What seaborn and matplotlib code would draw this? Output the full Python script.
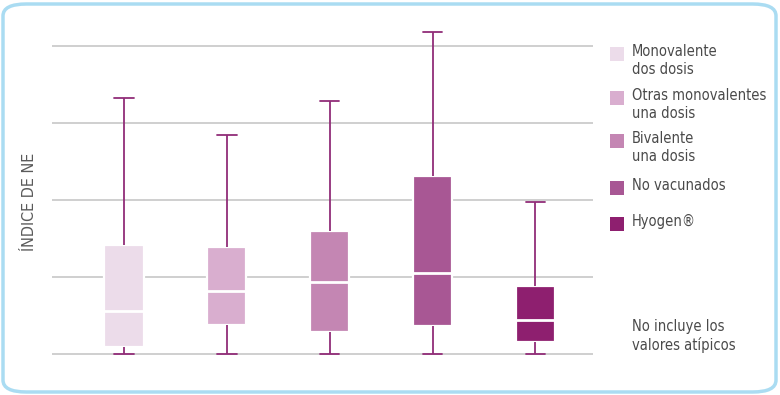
import numpy as np
import pandas as pd
import matplotlib.pyplot as plt
import seaborn as sns
from matplotlib.patches import FancyBboxPatch, Rectangle

# Five-number summaries (whiskers = min/max, outliers excluded)
groups = ['Monovalente dos dosis', 'Otras monovalentes una dosis', 'Bivalente una dosis',
          'No vacunados', 'Hyogen®']
lows = [0.0, 0.0, 0.0, 0.0, 0.0]
q1s = [0.09, 0.38, 0.29, 0.36, 0.16]
medians = [0.56, 0.82, 0.94, 1.05, 0.44]
q3s = [1.42, 1.39, 1.60, 2.31, 0.88]
highs = [3.32, 2.84, 3.29, 4.18, 1.97]

legend_labels = ['Monovalente\ndos dosis', 'Otras monovalentes\nuna dosis', 'Bivalente\nuna dosis',
                 'No vacunados', 'Hyogen®']
colors = ['#ecdcea', '#d9aecf', '#c486b3', '#a85794', '#8e1f6f']

# one row per summary value -> quartiles come out exactly as listed
rows = []
for g, lo, a, m, b, hi in zip(groups, lows, q1s, medians, q3s, highs):
    for v in (lo, a, m, b, hi):
        rows.append({'grupo': g, 'valor': v})
df = pd.DataFrame(rows)

sns.set_style('white')
plt.rcParams['font.family'] = ['DejaVu Sans']
plt.rcParams['font.stretch'] = 'condensed'

fig = plt.figure(figsize=(7.8, 3.95), dpi=100)
ax = fig.add_axes([52 / 780, 0.094, 541 / 780, 0.848])

sns.boxplot(data=df, x='grupo', y='valor', hue='grupo', palette=colors, legend=False,
            order=groups, hue_order=groups, width=0.38, whis=(0, 100), showfliers=False,
            saturation=1, linecolor='#912d78', linewidth=1.3,
            boxprops=dict(edgecolor='white', linewidth=1.6),
            medianprops=dict(color='white', linewidth=2),
            ax=ax, zorder=3)

ax.set_ylim(-0.05, 4.3)
ax.set_xlim(-0.7, 4.56)
ax.set_yticks([0, 1, 2, 3, 4])
ax.set_yticklabels([])
ax.set_xticks([])
ax.set_xlabel('')
ax.set_ylabel('')
ax.yaxis.grid(True, color='#cccccc', linewidth=1.3)
ax.set_axisbelow(True)
ax.tick_params(length=0)
for s in ax.spines.values():
    s.set_visible(False)

fig.text(29 / 780, 1 - 202 / 395, 'ÍNDICE DE NE', rotation=90, ha='center', va='center',
         fontsize=11.5, color='#5a5a5a')

# legend
leg_y = [54, 98, 141, 188, 224]
for lab, c, y in zip(legend_labels, colors, leg_y):
    fig.patches.append(Rectangle((610 / 780, 1 - (y + 7) / 395), 14 / 780, 14 / 395,
                                 transform=fig.transFigure, facecolor=c, edgecolor='none'))
    fig.text(632 / 780, 1 - (y - 10) / 395, lab, ha='left', va='top', fontsize=10.5,
             color='#4a4a4a', linespacing=1.25)

fig.text(632 / 780, 1 - 319 / 395, 'No incluye los\nvalores atípicos', ha='left', va='top',
         fontsize=10.5, color='#4a4a4a', linespacing=1.25)

# rounded frame
fig.patches.append(FancyBboxPatch((3 / 780, 3 / 395), 773 / 780, 388 / 395,
                                  boxstyle='round,pad=0,rounding_size=0.03',
                                  transform=fig.transFigure, facecolor='none',
                                  edgecolor='#aadcf2', linewidth=2.5))

fig.savefig('out.png', dpi=100)
